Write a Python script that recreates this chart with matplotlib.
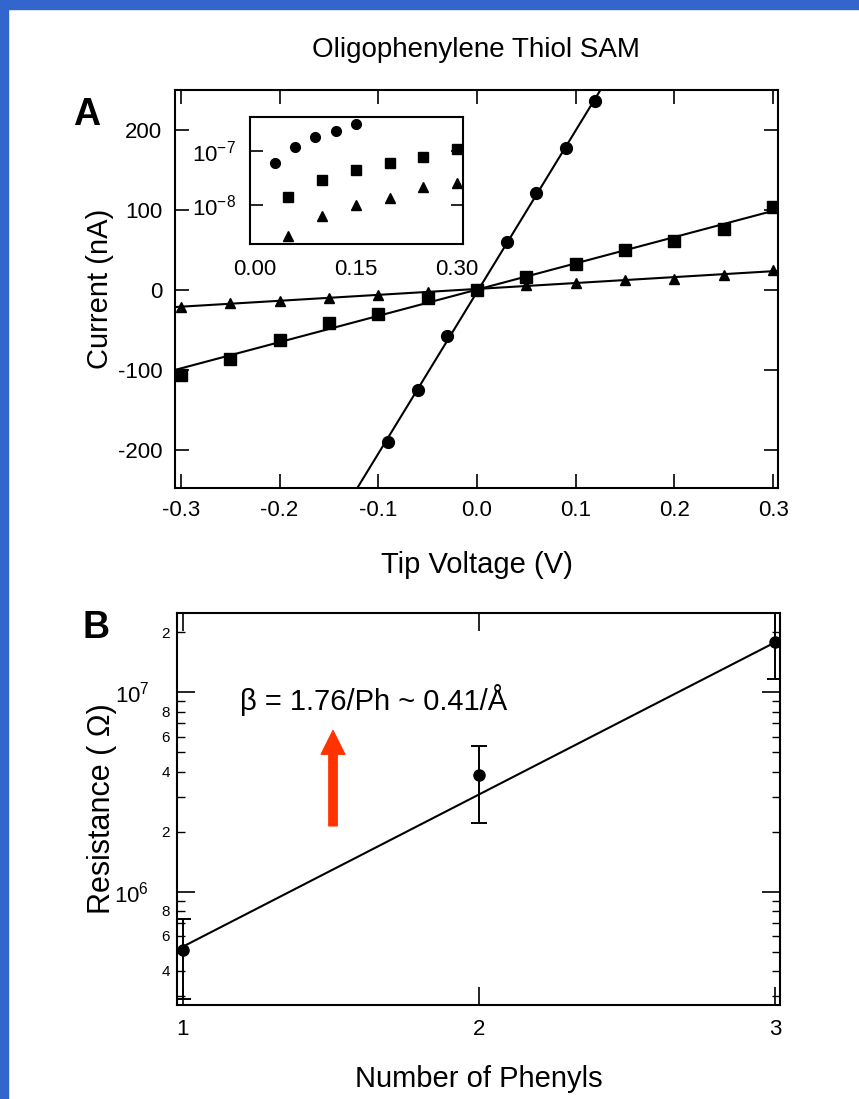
import numpy as np
import matplotlib
matplotlib.use("Agg")
import matplotlib.pyplot as plt
import matplotlib.patches as patches
from matplotlib.ticker import LogLocator, FuncFormatter, FixedLocator

plt.rcParams['font.family'] = ['Liberation Sans', 'DejaVu Sans']
plt.rcParams['axes.unicode_minus'] = False
plt.rcParams['mathtext.fontset'] = 'custom'
plt.rcParams['mathtext.rm'] = 'Liberation Sans'
plt.rcParams['mathtext.it'] = 'Liberation Sans'

# panel A: I-V curves (nA vs V)
volts = [-0.3, -0.25, -0.2, -0.15, -0.1, -0.05, 0.0, 0.05, 0.1, 0.15, 0.2, 0.25, 0.3]
cur_square = [-106, -86, -63, -41, -30, -10, 0, 16, 32, 50, 61, 76, 104]
cur_triangle = [-22, -16, -14, -10, -6, -3, 0, 6, 9, 12, 14, 19, 25]
volts_circle = [-0.09, -0.06, -0.03, 0.0, 0.03, 0.06, 0.09, 0.12]
cur_circle = [-190, -126, -58, 0, 60, 121, 177, 236]

# inset: |I| (A) on log scale
in_v_circle = [0.03, 0.06, 0.09, 0.12, 0.15]
in_i_circle = [6.0e-8, 1.18e-7, 1.8e-7, 2.36e-7, 3.2e-7]
in_v = [0.05, 0.10, 0.15, 0.20, 0.25, 0.30]
in_i_square = [1.4e-8, 2.9e-8, 4.4e-8, 6.0e-8, 7.7e-8, 1.1e-7]
in_i_triangle = [2.7e-9, 6.3e-9, 1.0e-8, 1.35e-8, 2.2e-8, 2.6e-8]

# panel B: resistance vs number of phenyls
n_phenyl = [1, 2, 3]
resist = [5.1e5, 3.83e6, 1.78e7]
res_lo = [2.9e5, 2.2e6, 1.16e7]
res_hi = [7.3e5, 5.4e6, 2.6e7]
fit_res = [5.3e5, 1.78e7]

W, H = 859, 1099
fig = plt.figure(figsize=(W / 100.0, H / 100.0), dpi=100)
fig.patch.set_facecolor('white')

def box(l, t, r, b):
    return [l / W, 1 - b / H, (r - l) / W, (b - t) / H]

#blue frame at the top and left
blue = '#3366cc'
fig.add_artist(patches.Rectangle((0, 1 - 9.0 / H), 1, 9.0 / H, transform=fig.transFigure, color=blue, zorder=0))
fig.add_artist(patches.Rectangle((0, 0), 8.0 / W, 1, transform=fig.transFigure, color=blue, zorder=0))

fig.text(476 / W, 1 - 50 / H, 'Oligophenylene Thiol SAM', ha='center', va='center', fontsize=20)

#---------------- panel A
axA = fig.add_axes(box(175, 90, 778, 488))
axA.set_xlim(-0.306, 0.305)
axA.set_ylim(-248, 250)

xs = np.array([-0.31, 0.31])
for vx, iy in [(volts_circle, cur_circle), (volts, cur_square), (volts, cur_triangle)]:
    p = np.polyfit(vx, iy, 1)
    axA.plot(xs, np.polyval(p, xs), color='black', lw=1.5)

axA.plot(volts_circle, cur_circle, 'o', color='black', ms=8.5)
axA.plot(volts, cur_square, 's', color='black', ms=8.5)
axA.plot(volts, cur_triangle, '^', color='black', ms=7.5)

axA.set_xticks([-0.3, -0.2, -0.1, 0.0, 0.1, 0.2, 0.3])
axA.set_xticklabels(['-0.3', '-0.2', '-0.1', '0.0', '0.1', '0.2', '0.3'])
axA.set_yticks([-200, -100, 0, 100, 200])
axA.tick_params(direction='in', length=10, width=1.2, top=True, right=True, labelsize=16, pad=9)
for s in axA.spines.values():
    s.set_linewidth(1.5)
axA.set_xlabel('Tip Voltage (V)', fontsize=21, labelpad=21)
axA.set_ylabel('Current (nA)', fontsize=21, labelpad=3)
fig.text(87 / W, 1 - 115 / H, 'A', fontsize=27, fontweight='bold', ha='center', va='center')

#---------------- inset
axI = fig.add_axes(box(250, 117, 463, 244))
axI.set_yscale('log')
axI.set_xlim(-0.007, 0.309)
axI.set_ylim(10 ** -8.72, 10 ** -6.37)
axI.plot(in_v_circle, in_i_circle, 'o', color='black', ms=7)
axI.plot(in_v, in_i_square, 's', color='black', ms=7.5)
axI.plot(in_v, in_i_triangle, '^', color='black', ms=6.5)
axI.set_xticks([0.0, 0.15, 0.30])
axI.set_xticklabels(['0.00', '0.15', '0.30'])
axI.yaxis.set_major_locator(FixedLocator([1e-8, 1e-7]))
axI.yaxis.set_minor_locator(FixedLocator([]))
axI.yaxis.set_major_formatter(FuncFormatter(lambda v, pos: r'$\mathregular{10^{%d}}$' % round(np.log10(v))))
axI.tick_params(axis='y', direction='in', length=9, width=1.2, right=True, labelsize=16, pad=10)
axI.tick_params(axis='x', direction='in', length=0, labelsize=16, pad=11)
for s in axI.spines.values():
    s.set_linewidth(1.5)

#---------------- panel B
axB = fig.add_axes(box(177, 613, 780, 1005))
axB.set_yscale('log')
axB.set_xlim(0.98, 3.017)
axB.set_ylim(2.7e5, 2.5e7)

axB.plot([n_phenyl[0], n_phenyl[-1]], fit_res, color='black', lw=1.5)
err = [np.array(resist) - np.array(res_lo), np.array(res_hi) - np.array(resist)]
axB.errorbar(n_phenyl, resist, yerr=err, fmt='o', color='black', ms=8, capsize=6, elinewidth=1.4, capthick=1.4)

axB.set_xticks([1, 2, 3])
axB.yaxis.set_major_locator(LogLocator(base=10, subs=(1.0,)))
axB.yaxis.set_minor_locator(LogLocator(base=10, subs=np.arange(2, 10)))
axB.yaxis.set_major_formatter(FuncFormatter(lambda v, pos: r'$\mathregular{10^{%d}}$' % round(np.log10(v))))

def minor_fmt(v, pos):
    d = int(round(v / 10 ** np.floor(np.log10(v) + 1e-9)))
    return str(d) if d in (2, 4, 6, 8) else ''

axB.yaxis.set_minor_formatter(FuncFormatter(minor_fmt))
axB.tick_params(which='major', direction='in', length=13, width=1.2, top=True, right=True, labelsize=16, pad=20)
axB.tick_params(which='minor', direction='in', length=6, width=1.0, right=True, labelsize=11, pad=5)
axB.tick_params(axis='x', which='major', pad=10)
for s in axB.spines.values():
    s.set_linewidth(1.5)
axB.set_xlabel('Number of Phenyls', fontsize=21, labelpad=18)
axB.set_ylabel('Resistance ( \u03a9)', fontsize=22, labelpad=-2)
fig.text(96 / W, 1 - 628 / H, 'B', fontsize=27, fontweight='bold', ha='center', va='center')

axB.text(0.104, 0.778, '\u03b2 = 1.76/Ph ~ 0.41/\u00c5', transform=axB.transAxes, fontsize=21, va='center')
axB.annotate('', xy=(1.507, 0.70), xytext=(1.507, 0.457), xycoords=('data', 'axes fraction'),
             arrowprops=dict(arrowstyle='simple,head_width=1.7,head_length=1.7,tail_width=0.6',
                             mutation_scale=10, color='#ff3300', shrinkA=0, shrinkB=0))

fig.savefig('out.png', dpi=100, facecolor='white')
